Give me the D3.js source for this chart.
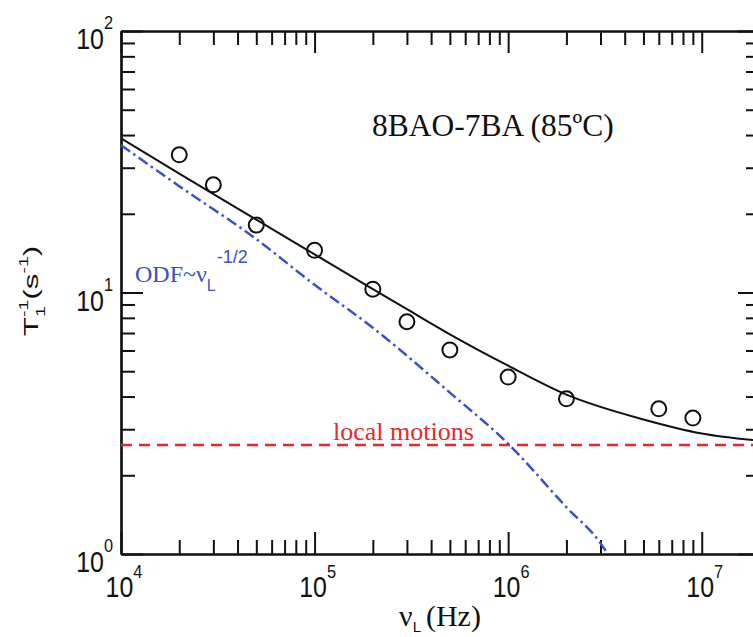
<!DOCTYPE html>
<html>
<head>
<meta charset="utf-8">
<script src="https://cdn.jsdelivr.net/npm/d3@7"></script>
<style>
  html, body { margin: 0; padding: 0; background: #fff; }
  svg { display: block; }
  .sans { font-family: "Liberation Sans", Arial, Helvetica, sans-serif; }
  .serif { font-family: "Liberation Serif", "Times New Roman", Times, serif; }
</style>
</head>
<body>
<svg id="chart" width="753" height="637"></svg>
<script>
// Measured spin-lattice relaxation rates, 8BAO-7BA at 85 °C
const freqHz   = [2e4, 3e4, 5e4, 1e5, 2e5, 3e5, 5e5, 1e6, 2e6, 6e6, 9e6];
const rateObs  = [33.6, 25.8, 18.1, 14.5, 10.3, 7.73, 6.03, 4.75, 3.92, 3.59, 3.31];

// Total fitted dispersion (solid line)
const fitFreq  = [1e4, 2e4, 5e4, 1e5, 2e5, 3e5, 5e5, 1e6, 2e6, 5e6, 1e7, 2e7];
const fitRate  = [38.9, 28.5, 19.0, 14.0, 10.3, 8.63, 6.92, 5.25, 4.07, 3.27, 2.89, 2.71];

// Order-director-fluctuation contribution (dash-dot line)
const odfFreq  = [1e4, 2e4, 5e4, 1e5, 2e5, 5e5, 1e6, 2e6, 3e6, 3.27e6];
const odfRate  = [36.6, 25.5, 16.0, 10.7, 7.33, 4.14, 2.64, 1.51, 1.10, 1.0];

// Local-motion contribution (constant, dashed line)
const localRate = 2.61;

// Axis ticks
const xMajor = [1e4, 1e5, 1e6, 1e7];
const xMajorExp = ["4", "5", "6", "7"];
const yMajor = [1, 10, 100];
const yMajorExp = ["0", "1", "2"];

const xMinor = [];
[1e4, 1e5, 1e6, 1e7].forEach(b => { for (let k = 2; k <= 9; k++) if (k * b < 2e7) xMinor.push(k * b); });
const yMinor = [];
[1, 10].forEach(b => { for (let k = 2; k <= 9; k++) yMinor.push(k * b); });

const svg = d3.select("#chart");
const L = 121, R = 760, T = 31, B = 554;

const x = d3.scaleLog().domain([1e4, 2e7]).range([L, R]);
const y = d3.scaleLog().domain([1, 100]).range([B, T]);

const majorLen = 22, minorLen = 14;

function styleAxis(g) {
  g.selectAll("path.domain").attr("stroke", "#111").attr("stroke-width", 2.2);
  g.selectAll(".tick line").attr("stroke", "#111").attr("stroke-width", 2);
  g.selectAll("text").remove();
}

// Frame with inward ticks on all four sides
[[d3.axisBottom(x), `translate(0,${B})`, xMajor, xMinor],
 [d3.axisTop(x), `translate(0,${T})`, xMajor, xMinor],
 [d3.axisLeft(y), `translate(${L},0)`, yMajor, yMinor]].forEach(([ax, tr, maj, min]) => {
  svg.append("g").attr("transform", tr)
    .call(ax.tickValues(maj).tickSizeInner(-majorLen).tickSizeOuter(0).tickFormat(""))
    .call(styleAxis);
  svg.append("g").attr("transform", tr)
    .call(ax.tickValues(min).tickSizeInner(-minorLen).tickSizeOuter(0).tickFormat(""))
    .call(styleAxis);
});
svg.append("g").attr("transform", `translate(${R},0)`)
  .call(d3.axisLeft(y).tickValues(yMajor).tickSizeInner(majorLen).tickSizeOuter(0).tickFormat(""))
  .call(styleAxis);
svg.append("g").attr("transform", `translate(${R},0)`)
  .call(d3.axisLeft(y).tickValues(yMinor).tickSizeInner(minorLen).tickSizeOuter(0).tickFormat(""))
  .call(styleAxis);

// Tick labels, powers of ten
xMajor.forEach((v, i) => {
  const t = svg.append("text").attr("class", "sans")
    .attr("transform", `translate(${x(v) + 3},597) scale(0.86,1)`)
    .attr("text-anchor", "middle").attr("font-size", 29).attr("fill", "#111");
  t.append("tspan").text("10");
  t.append("tspan").attr("dy", -19).attr("font-size", 19).text(xMajorExp[i]);
});
yMajor.forEach((v, i) => {
  const t = svg.append("text").attr("class", "sans")
    .attr("transform", `translate(113,${y(v) + 18}) scale(0.86,1)`)
    .attr("text-anchor", "end").attr("font-size", 29).attr("fill", "#111");
  t.append("tspan").text("10");
  t.append("tspan").attr("dy", -20).attr("font-size", 19).text(yMajorExp[i]);
});

// Clip curves to the plotting frame
svg.append("clipPath").attr("id", "plot").append("rect")
  .attr("x", L).attr("y", T).attr("width", R - L).attr("height", B - T);
const plot = svg.append("g").attr("clip-path", "url(#plot)");

const line = d3.line().x(d => x(d[0])).y(d => y(d[1])).curve(d3.curveMonotoneX);

// Local motions
plot.append("line")
  .attr("x1", x(1e4)).attr("x2", x(2e7))
  .attr("y1", y(localRate)).attr("y2", y(localRate))
  .attr("stroke", "#e8282b").attr("stroke-width", 2.5)
  .attr("stroke-dasharray", "11,7");

// ODF contribution
plot.append("path")
  .attr("d", line(odfFreq.map((f, i) => [f, odfRate[i]])))
  .attr("fill", "none").attr("stroke", "#3c52c2").attr("stroke-width", 2.5)
  .attr("stroke-dasharray", "11,4,2.5,4");

// Total fit
plot.append("path")
  .attr("d", line(fitFreq.map((f, i) => [f, fitRate[i]])))
  .attr("fill", "none").attr("stroke", "#111").attr("stroke-width", 2);

// Experimental points
plot.selectAll("circle.obs").data(freqHz.map((f, i) => [f, rateObs[i]]))
  .join("circle").attr("class", "obs")
  .attr("cx", d => x(d[0])).attr("cy", d => y(d[1])).attr("r", 7.5)
  .attr("fill", "none").attr("stroke", "#111").attr("stroke-width", 2);

// Annotations
svg.append("text").attr("class", "serif")
  .attr("x", 372).attr("y", 136).attr("font-size", 31.5).attr("fill", "#111")
  .text("8BAO-7BA (85ºC)");

const odf = svg.append("text").attr("class", "serif")
  .attr("x", 135).attr("y", 282).attr("font-size", 24).attr("fill", "#3c52c2");
odf.append("tspan").text("ODF~ν");
odf.append("tspan").attr("class", "sans").attr("font-size", 16).attr("dy", 9).text("L");
odf.append("tspan").attr("class", "sans").attr("font-size", 18).attr("dy", -28).attr("dx", 1).text("-1/2");

svg.append("text").attr("class", "serif")
  .attr("x", 333).attr("y", 440).attr("font-size", 26).attr("fill", "#e8282b")
  .text("local motions");

// Axis titles
const xt = svg.append("text").attr("class", "serif")
  .attr("x", 440).attr("y", 626).attr("text-anchor", "middle")
  .attr("font-size", 30).attr("fill", "#111");
xt.append("tspan").text("ν");
xt.append("tspan").attr("class", "sans").attr("font-size", 15).attr("dy", 6).text("L");
xt.append("tspan").attr("dy", -6).attr("dx", 5).text("(Hz)");

const yt = svg.append("text").attr("class", "sans")
  .attr("transform", "translate(38,291) rotate(-90) scale(1.5,1)")
  .attr("text-anchor", "middle").attr("font-size", 21).attr("fill", "#111");
yt.append("tspan").text("T");
yt.append("tspan").attr("font-size", 13).attr("dy", 7).text("1");
yt.append("tspan").attr("font-size", 13).attr("dy", -17).attr("dx", -7.2).text("-1");
yt.append("tspan").attr("dy", 10).text("(s");
yt.append("tspan").attr("font-size", 13).attr("dy", -10).text("-1");
yt.append("tspan").attr("dy", 10).text(")");
</script>
</body>
</html>
